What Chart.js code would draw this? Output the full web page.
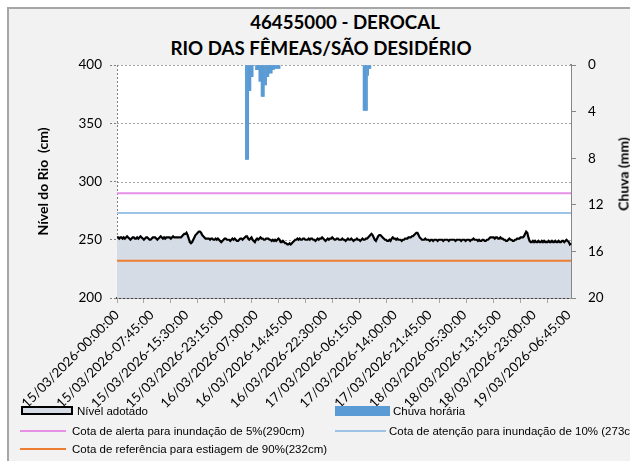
<!DOCTYPE html>
<html>
<head>
<meta charset="utf-8">
<script src="https://cdn.jsdelivr.net/npm/chart.js@4.4.1/dist/chart.umd.min.js"></script>
<style>
  body { margin: 0; width: 630px; height: 461px; overflow: hidden; background: #fff; position: relative; }
  #frame { position: absolute; left: 7px; top: 7px; width: 650px; height: 480px; background: #f2f2f2; border: 2px solid #a6a6a6; }
  #c { position: absolute; left: 0; top: 0; }
  .ttl { position: absolute; font-family: Lato, sans-serif; font-weight: bold; font-size: 18.7px; white-space: nowrap; transform: translate(-50%, -50%); color: #000; }
  .axt { position: absolute; font-family: Lato, sans-serif; font-weight: bold; font-size: 14px; white-space: nowrap; transform: translate(-50%, -50%) rotate(-90deg); color: #000; }
  .lg { position: absolute; font-family: "Liberation Sans", Arial, sans-serif; font-size: 11.5px; white-space: nowrap; color: #000; line-height: 14px; }
  .sym { position: absolute; }
</style>
</head>
<body>
<div id="frame"></div>
<div class="ttl" style="left:345px; top:22px">46455000 - DEROCAL</div>
<div class="ttl" style="left:321px; top:48px">RIO DAS FÊMEAS/SÃO DESIDÉRIO</div>
<canvas id="c" width="630" height="461"></canvas>
<div class="axt" style="left:623px; top:174px">Chuva (mm)</div>

<div class="sym" style="left:21px; top:406px; width:48px; height:5px; background:#d6dce5; border:2px solid #000"></div>
<div class="lg" style="left:77px; top:404px">Nível adotado</div>
<div class="sym" style="left:335px; top:406px; width:55px; height:10px; background:#5b9bd5"></div>
<div class="lg" style="left:393px; top:404px">Chuva horária</div>

<div class="sym" style="left:20px; top:430px; width:46px; height:2px; background:#e68fe6"></div>
<div class="lg" style="left:72px; top:424px">Cota de alerta para inundação de 5%(290cm)</div>
<div class="sym" style="left:335px; top:430px; width:51px; height:2px; background:#9dc3e6"></div>
<div class="lg" style="left:389px; top:424px">Cota de atenção para inundação de 10% (273cm)</div>

<div class="sym" style="left:20px; top:448px; width:46px; height:2px; background:#ed7d31"></div>
<div class="lg" style="left:72px; top:442px">Cota de referência para estiagem de 90%(232cm)</div>

<script>
// Nível do rio (cm), leitura a cada 15 min
const nivelCm = [
  252, 252, 251, 252, 252, 251, 252, 251, 252, 253,
  252, 251, 250, 251, 252, 252, 251, 251, 252, 251,
  252, 253, 252, 251, 250, 251, 252, 252, 251, 250,
  250, 251, 252, 252, 252, 251, 250, 251, 252, 253,
  252, 251, 252, 251, 252, 252, 252, 252, 251, 252,
  253, 252, 252, 252, 252, 252, 252, 252, 253, 254,
  255, 255, 256, 254, 251, 248, 247, 248, 250, 252,
  254, 255, 256, 257, 257, 256, 254, 253, 252, 251,
  251, 251, 251, 250, 251, 251, 250, 250, 251, 250,
  251, 250, 249, 248, 249, 250, 251, 251, 250, 250,
  250, 249, 250, 251, 250, 251, 250, 249, 249, 250,
  251, 251, 250, 251, 252, 253, 253, 251, 250, 251,
  252, 250, 249, 248, 250, 251, 250, 251, 252, 251,
  251, 250, 250, 251, 251, 251, 250, 250, 249, 250,
  249, 250, 249, 250, 251, 250, 248, 248, 249, 248,
  247, 247, 246, 246, 247, 246, 247, 248, 249, 250,
  250, 251, 250, 251, 250, 250, 251, 251, 250, 250,
  250, 251, 250, 251, 251, 250, 250, 249, 250, 251,
  250, 251, 251, 252, 251, 250, 249, 250, 251, 250,
  251, 251, 252, 251, 250, 250, 251, 251, 250, 250,
  250, 251, 250, 250, 249, 250, 251, 250, 250, 251,
  250, 249, 250, 250, 251, 250, 250, 249, 250, 251,
  250, 250, 251, 251, 252, 253, 254, 255, 254, 252,
  250, 249, 251, 253, 254, 254, 253, 252, 251, 250,
  250, 249, 249, 250, 249, 251, 252, 251, 251, 250,
  251, 250, 250, 250, 249, 250, 250, 251, 251, 251,
  252, 252, 252, 253, 253, 254, 255, 256, 256, 254,
  252, 251, 250, 250, 250, 251, 250, 250, 250, 249,
  250, 250, 249, 250, 250, 250, 249, 250, 250, 250,
  250, 249, 250, 250, 250, 250, 249, 250, 250, 250,
  250, 250, 249, 250, 250, 250, 250, 249, 250, 250,
  250, 249, 250, 250, 250, 249, 250, 250, 251, 250,
  250, 250, 249, 250, 249, 249, 250, 250, 249, 249,
  250, 250, 251, 252, 252, 252, 252, 251, 252, 252,
  251, 251, 252, 251, 251, 250, 250, 249, 249, 250,
  251, 250, 250, 249, 249, 250, 250, 251, 251, 251,
  252, 252, 252, 253, 255, 257, 256, 252, 249, 248,
  248, 249, 248, 249, 248, 248, 249, 248, 248, 249,
  248, 249, 248, 248, 248, 249, 248, 248, 249, 248,
  248, 249, 248, 248, 249, 248, 248, 249, 249, 248,
  249, 250, 249, 248, 246, 247
];

// Chuva horária (mm): posição na série e valor
const chuvaIdx = [115, 116, 117, 118, 119, 120, 121,
                  124, 125, 126, 127, 128, 129, 130, 131, 132, 133, 134, 135,
                  136, 137, 138, 139, 140, 141, 142, 143, 144, 145,
                  220, 221, 222, 223, 224, 225, 226];
const chuvaMm = [8.1, 8.1, 8.1, 2.2, 2.2, 1.0, 1.0,
                 0.4, 0.4, 0.4, 1.4, 1.4, 2.7, 2.7, 2.7, 1.7, 1.7, 1.0, 1.0,
                 0.7, 0.7, 0.7, 0.4, 0.4, 0.3, 0.3, 0.3, 0.3, 0.3,
                 3.9, 3.9, 3.9, 3.9, 0.9, 0.3, 0.3];

// cotas de referência (cm)
const cotaAlerta = 290;
const cotaAtencao = 273;
const cotaEstiagem = 232;

const labelEvery = 31;   // um rótulo a cada 31 leituras
const tickEvery = 24;    // marca do eixo a cada 24 leituras

// datas das leituras (15 min, com falha de 2h em 18/03)
function pad(n) { return String(n).padStart(2, '0'); }
function buildTimes(n) {
  const out = [];
  let t = Date.UTC(2026, 2, 15, 0, 0);
  const gapAt = Date.UTC(2026, 2, 18, 17, 15);
  while (out.length < n) {
    const d = new Date(t);
    out.push(pad(d.getUTCDate()) + '/' + pad(d.getUTCMonth() + 1) + '/' + d.getUTCFullYear() + '-' +
             pad(d.getUTCHours()) + ':' + pad(d.getUTCMinutes()) + ':00');
    t += 15 * 60000;
    if (t === gapAt) t += 8 * 15 * 60000;
  }
  return out;
}
const horarios = buildTimes(nivelCm.length);

const chuva = horarios.map((_, i) => {
  const k = chuvaIdx.indexOf(i);
  return k >= 0 ? chuvaMm[k] : null;
});

function cota(v) {
  return [{ x: horarios[0], y: v }, { x: horarios[horarios.length - 1], y: v }];
}

// fundo branco da área de plotagem + linhas de grade pontilhadas do eixo esquerdo
const plotBg = {
  id: 'plotBg',
  beforeDatasetsDraw(chart) {
    const { ctx, chartArea: a, scales } = chart;
    ctx.save();
    ctx.fillStyle = '#fff';
    ctx.fillRect(a.left, a.top, a.width, a.height);
    ctx.strokeStyle = '#a6a6a6';
    ctx.lineWidth = 1;
    ctx.setLineDash([2, 2]);
    scales.y.ticks.forEach(t => {
      const py = Math.round(scales.y.getPixelForValue(t.value)) + 0.5;
      ctx.beginPath();
      ctx.moveTo(a.left, py);
      ctx.lineTo(a.right, py);
      ctx.stroke();
    });
    const px = Math.round(scales.x.getPixelForValue(0)) + 0.5;
    ctx.strokeStyle = '#7f7f7f';
    ctx.beginPath();
    ctx.moveTo(px, a.top);
    ctx.lineTo(px, a.bottom);
    ctx.stroke();
    ctx.restore();
  }
};

Chart.defaults.font.family = 'Lato';
Chart.defaults.color = '#000';

const tickFont = { family: 'Lato', size: 13.5 };
const titleFont = { family: 'Lato', size: 14, weight: 'bold' };

new Chart(document.getElementById('c'), {
  type: 'line',
  data: {
    labels: horarios,
    datasets: [
      {
        type: 'bar',
        label: 'Chuva horária',
        data: chuva,
        yAxisID: 'y1',
        backgroundColor: '#5b9bd5',
        barPercentage: 1,
        categoryPercentage: 1,
        order: 0
      },
      {
        label: 'Cota de alerta para inundação de 5%(290cm)',
        data: cota(cotaAlerta),
        borderColor: '#e68fe6',
        borderWidth: 2,
        pointRadius: 0,
        fill: false,
        order: 1
      },
      {
        label: 'Cota de atenção para inundação de 10% (273cm)',
        data: cota(cotaAtencao),
        borderColor: '#9dc3e6',
        borderWidth: 2,
        pointRadius: 0,
        fill: false,
        order: 2
      },
      {
        label: 'Cota de referência para estiagem de 90%(232cm)',
        data: cota(cotaEstiagem),
        borderColor: '#ed7d31',
        borderWidth: 2,
        pointRadius: 0,
        fill: false,
        order: 3
      },
      {
        label: 'Nível adotado',
        data: nivelCm,
        borderColor: '#000',
        borderWidth: 2.2,
        backgroundColor: '#d6dce5',
        fill: 'start',
        pointRadius: 0,
        tension: 0,
        order: 4
      }
    ]
  },
  options: {
    responsive: false,
    animation: false,
    devicePixelRatio: 1,
    layout: { padding: { top: 65, left: 35, right: 0, bottom: 0 } },
    plugins: {
      legend: { display: false },
      tooltip: { enabled: false }
    },
    scales: {
      x: {
        type: 'category',
        offset: false,
        grid: {
          offset: false,
          drawOnChartArea: false,
          tickColor: ctx => ctx.index % tickEvery === 0 ? '#a6a6a6' : 'transparent',
          tickLength: 5
        },
        border: { color: '#404040', width: 2 },
        ticks: {
          autoSkip: false,
          maxRotation: 45,
          minRotation: 45,
          padding: 4,
          font: { family: 'Lato', size: 13.3 },
          callback: (v, i) => i % labelEvery === 0 ? horarios[i] : ''
        },
        afterFit(s) { s.height = 163; }
      },
      y: {
        position: 'left',
        min: 200,
        max: 400,
        ticks: { stepSize: 50, padding: 8, font: tickFont },
        grid: { drawOnChartArea: false, tickColor: '#808080', tickLength: 7, tickBorderDash: [2, 2] },
        border: { display: false },
        title: { display: true, text: 'Nível do Rio  (cm)', font: titleFont, padding: 0 },
        afterFit(s) { s.width = 82; }
      },
      y1: {
        position: 'right',
        reverse: true,
        min: 0,
        max: 20,
        ticks: { stepSize: 4, padding: 12, font: tickFont },
        grid: { drawOnChartArea: false, tickColor: '#868686', tickLength: 5 },
        border: { color: '#868686', width: 2 },
        afterFit(s) { s.width = 59; }
      }
    }
  },
  plugins: [plotBg]
});
</script>
</body>
</html>
